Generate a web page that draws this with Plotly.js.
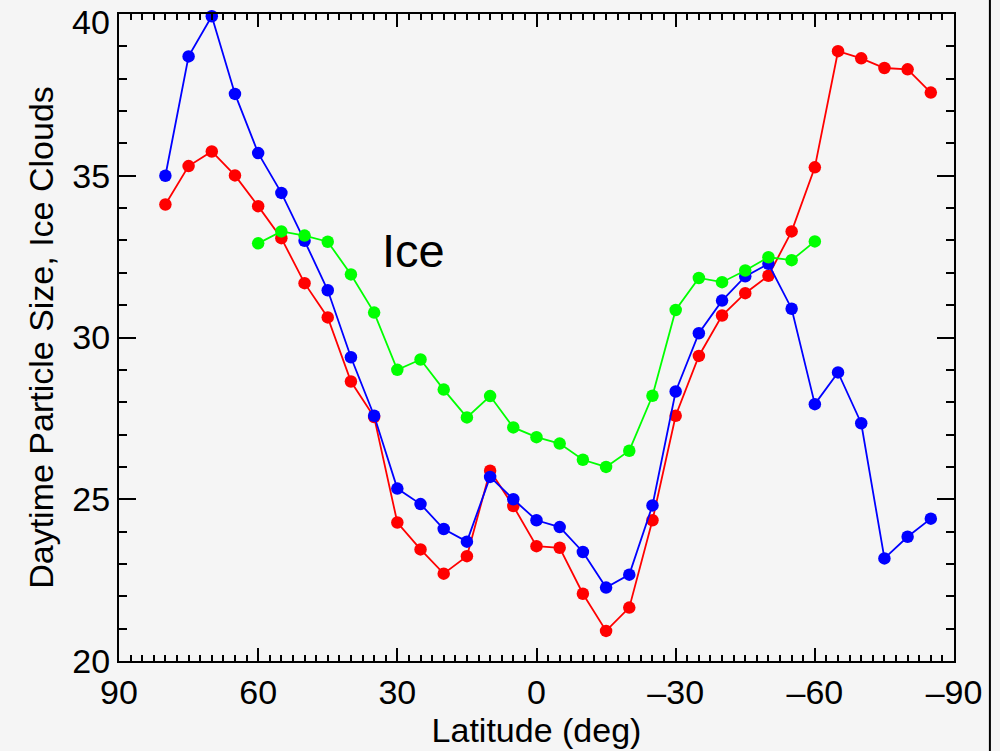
<!DOCTYPE html>
<html>
<head>
<meta charset="utf-8">
<script src="https://cdn.plot.ly/plotly-3.0.1.min.js"></script>
<style>
html,body{margin:0;padding:0;background:#f5f5f5;}
#chart{width:1000px;height:751px;}
</style>
</head>
<body>
<div id="chart"></div>
<script>
// Latitudes (deg)
const latFull = [80,75,70,65,60,55,50,45,40,35,30,25,20,15,10,5,0,-5,-10,-15,-20,-25,-30,-35,-40,-45,-50,-55,-60,-65,-70,-75,-80,-85];
const latGreen = [60,55,50,45,40,35,30,25,20,15,10,5,0,-5,-10,-15,-20,-25,-30,-35,-40,-45,-50,-55,-60];

const blueVals = [35.0,38.69,39.93,37.53,35.70,34.47,32.99,31.46,29.39,27.58,25.33,24.85,24.08,23.69,25.69,25.0,24.35,24.14,23.37,22.27,22.67,24.81,28.33,30.13,31.14,31.89,32.28,30.89,27.94,28.92,27.35,23.17,23.84,24.40];
const redVals = [34.11,35.30,35.75,35.01,34.06,33.07,31.68,30.62,28.64,27.54,24.28,23.45,22.70,23.24,25.88,24.79,23.55,23.50,22.08,20.93,21.65,24.35,27.58,29.43,30.68,31.37,31.91,33.28,35.26,38.85,38.63,38.33,38.29,37.57];
const greenVals = [32.91,33.28,33.15,32.96,31.95,30.77,29.00,29.32,28.39,27.53,28.19,27.22,26.92,26.72,26.22,26.00,26.50,28.20,30.85,31.84,31.71,32.07,32.48,32.39,32.97];

const xTickVals = [90,60,30,0,-30,-60,-90];
const xTickText = ['90','60','30','0','\u201330','\u201360','\u201390'];
const yTickVals = [20,25,30,35,40];
// the top label (40) is drawn as an annotation, nudged down so it stays inside the picture
const yTickText = ['20','25','30','35',''];
const yTopLabel = '40';

const FONT = 'Liberation Sans, Arial, Helvetica, sans-serif';

function series(x, y, color) {
  return {
    x: x, y: y, type: 'scatter', mode: 'lines+markers',
    line: {color: color, width: 1.8},
    marker: {color: color, size: 12.5},
    cliponaxis: false,
    showlegend: false
  };
}

const data = [
  series(latFull, redVals, '#ff0000'),
  series(latFull, blueVals, '#0000ff'),
  series(latGreen, greenVals, '#00ff00')
];

const layout = {
  width: 1000, height: 751,
  margin: {l: 119, r: 46, t: 14, b: 90},
  paper_bgcolor: '#f5f5f5',
  plot_bgcolor: '#f5f5f5',
  font: {family: FONT, size: 34, color: '#000'},
  xaxis: {
    range: [90, -90], autorange: false,
    tickmode: 'array', tickvals: xTickVals, ticktext: xTickText,
    ticks: 'inside', ticklen: 13, tickwidth: 2, tickcolor: '#000',
    minor: {dtick: 2.5, tick0: 0, ticks: 'inside', ticklen: 6, tickwidth: 2, tickcolor: '#000', showgrid: false},
    showline: true, linewidth: 2, linecolor: '#000', mirror: 'allticks',
    showgrid: false, zeroline: false,
    ticklabeloverflow: 'allow',
    tickfont: {family: FONT, size: 34},
    title: {text: 'Latitude (deg)', font: {family: FONT, size: 34}, standoff: 2}
  },
  yaxis: {
    range: [20, 40], autorange: false,
    tickmode: 'array', tickvals: yTickVals, ticktext: yTickText,
    ticks: 'inside', ticklen: 17, tickwidth: 2, tickcolor: '#000',
    minor: {dtick: 1, tick0: 0, ticks: 'inside', ticklen: 8, tickwidth: 2, tickcolor: '#000', showgrid: false},
    showline: true, linewidth: 2, linecolor: '#000', mirror: 'allticks',
    showgrid: false, zeroline: false,
    ticklabeloverflow: 'allow',
    tickfont: {family: FONT, size: 34},
    title: {text: 'Daytime Particle Size, Ice Clouds', font: {family: FONT, size: 34}, standoff: 8}
  },
  annotations: [{
    x: 26.5, y: 32.7, xref: 'x', yref: 'y',
    text: 'Ice', showarrow: false,
    font: {family: FONT, size: 47, color: '#000'}
  }, {
    x: -0.008, y: 0.987, xref: 'paper', yref: 'paper',
    xanchor: 'right', yanchor: 'middle',
    text: yTopLabel, showarrow: false,
    font: {family: FONT, size: 34, color: '#000'}
  }],
  shapes: [{
    type: 'line', xref: 'paper', yref: 'paper',
    x0: 1.043, x1: 1.043, y0: -0.3, y1: 1.2,
    line: {color: '#000', width: 2}
  }]
};

Plotly.newPlot('chart', data, layout, {displayModeBar: false, staticPlot: true});
</script>
</body>
</html>
